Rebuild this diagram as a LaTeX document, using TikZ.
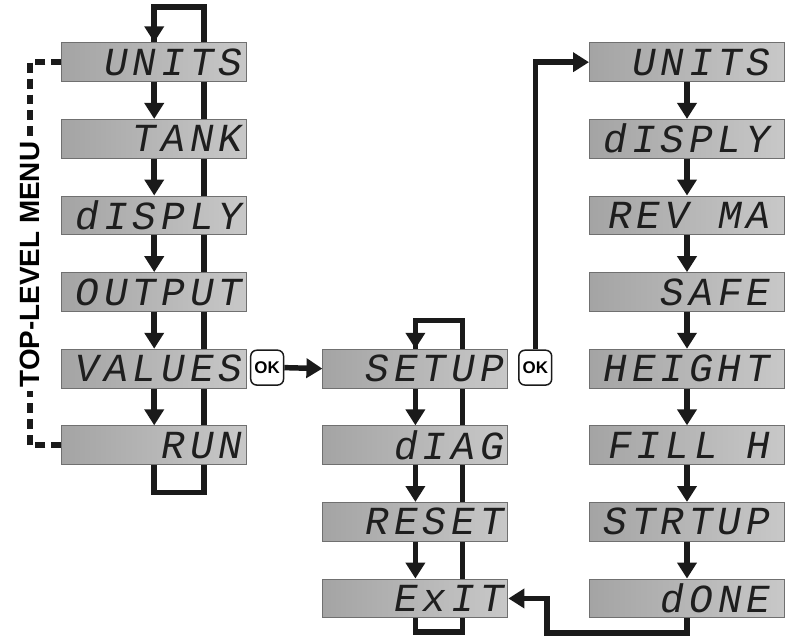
\documentclass[tikz,border=0pt]{standalone}
\usepackage{fontspec}
\setsansfont{Liberation Sans}
\newfontfamily\lcdfont[FakeSlant=0.18,LetterSpace=12]{Liberation Mono}
\usetikzlibrary{arrows.meta,backgrounds}
\newcommand\lcdgap{\kern28.8pt}

\begin{document}
\begin{tikzpicture}[x=1pt,y=-1pt,
  lcdbox/.style={rectangle,draw=boxline,line width=1pt,left color=lcddark,right color=lcdlight,
    minimum height=39pt,text width=174pt,inner xsep=6pt,inner ysep=0pt,align=right,
    font=\lcdfont\fontsize{40}{40}\selectfont,text=lcdink},
  rbox/.style={lcdbox,text width=184pt},
  flow/.style={draw=flowink,line width=5.5pt,-{Triangle[length=16pt,width=19pt]}},
  loopline/.style={draw=flowink,line width=5.5pt},
  okbox/.style={draw=flowink,line width=1.5pt,rounded corners=6pt,fill=white,
    minimum width=33pt,minimum height=35pt,inner sep=0pt,font=\sffamily\bfseries\fontsize{17}{17}\selectfont},
  menudash/.style={draw=flowink,line width=6pt,dash pattern=on 10pt off 6pt}]
  \definecolor{lcddark}{HTML}{A4A4A4}
  \definecolor{lcdlight}{HTML}{C8C8C8}
  \definecolor{boxline}{HTML}{707070}
  \definecolor{lcdink}{HTML}{1E1E1E}
  \definecolor{flowink}{HTML}{1A1A1A}

  % top-level menu column
  \foreach \i/\name/\txt in {0/lunits/UNITS,1/ltank/TANK,2/ldisply/dISPLY,
                             3/loutput/OUTPUT,4/lvalues/VALUES,5/lrun/RUN}{
    \node[lcdbox] (\name) at (155,62.5+77*\i) {\txt};
  }
  % setup column
  \foreach \i/\name/\txt in {4/msetup/SETUP,5/mdiag/dIAG,6/mreset/RESET,7/mexit/ExIT}{
    \node[lcdbox] (\name) at (417.5,62.5+77*\i) {\txt};
  }
  % setup sub-menu column (runs off the right edge)
  \foreach \i/\name/\txt in {0/runits/UNITS,1/rdisply/dISPLY,2/rrevma/REV\lcdgap MA,3/rsafe/SAFE,
                             4/rheight/HEIGHT,5/rfill/FILL\lcdgap H,6/rstrtup/STRTUP,7/rdone/dONE}{
    \node[rbox,anchor=west] (\name) at (592,62.5+77*\i) {\txt\kern10pt};
  }

  \node[okbox] (okone) at (268.5,369.5) {OK};
  \node[okbox] (oktwo) at (538,369.5) {OK};
  \node[font=\sffamily\bfseries\fontsize{28}{28}\selectfont,rotate=90,fill=white,
        inner xsep=3pt,inner ysep=0pt] (menu) at (30,266) {TOP-LEVEL MENU};

  % step arrows
  \foreach \a/\b in {lunits/ltank,ltank/ldisply,ldisply/loutput,loutput/lvalues,lvalues/lrun,
                     msetup/mdiag,mdiag/mreset,mreset/mexit,
                     runits/rdisply,rdisply/rrevma,rrevma/rsafe,rsafe/rheight,
                     rheight/rfill,rfill/rstrtup,rstrtup/rdone}{
    \draw[flow] (\a.south) -- (\b.north);
  }

  % wrap-around loops behind the displays
  \begin{scope}[on background layer]
    \draw[loopline] (lrun.south) |- (205,495) -- (205,7) -| ([yshift=-14pt]lunits.north);
    \draw[loopline] (mexit.south) |- (465,635) -- (465,322) -| ([yshift=-14pt]msetup.north);
  \end{scope}
  \draw[flow] (155,20) -- (lunits.north);
  \draw[flow] (417.5,335) -- (msetup.north);

  \draw[flow] (okone.east) -- (msetup.west);
  \draw[flow] (oktwo.north) |- (runits.west);
  \draw[flow] (rdone.south) |- (550,636) |- (mexit.east);

  \draw[menudash] (lunits.west) -| (menu.east);
  \draw[menudash] (lrun.west) -| (menu.west);

  \path[use as bounding box] (0,0) rectangle (785,640);
\end{tikzpicture}
\end{document}
